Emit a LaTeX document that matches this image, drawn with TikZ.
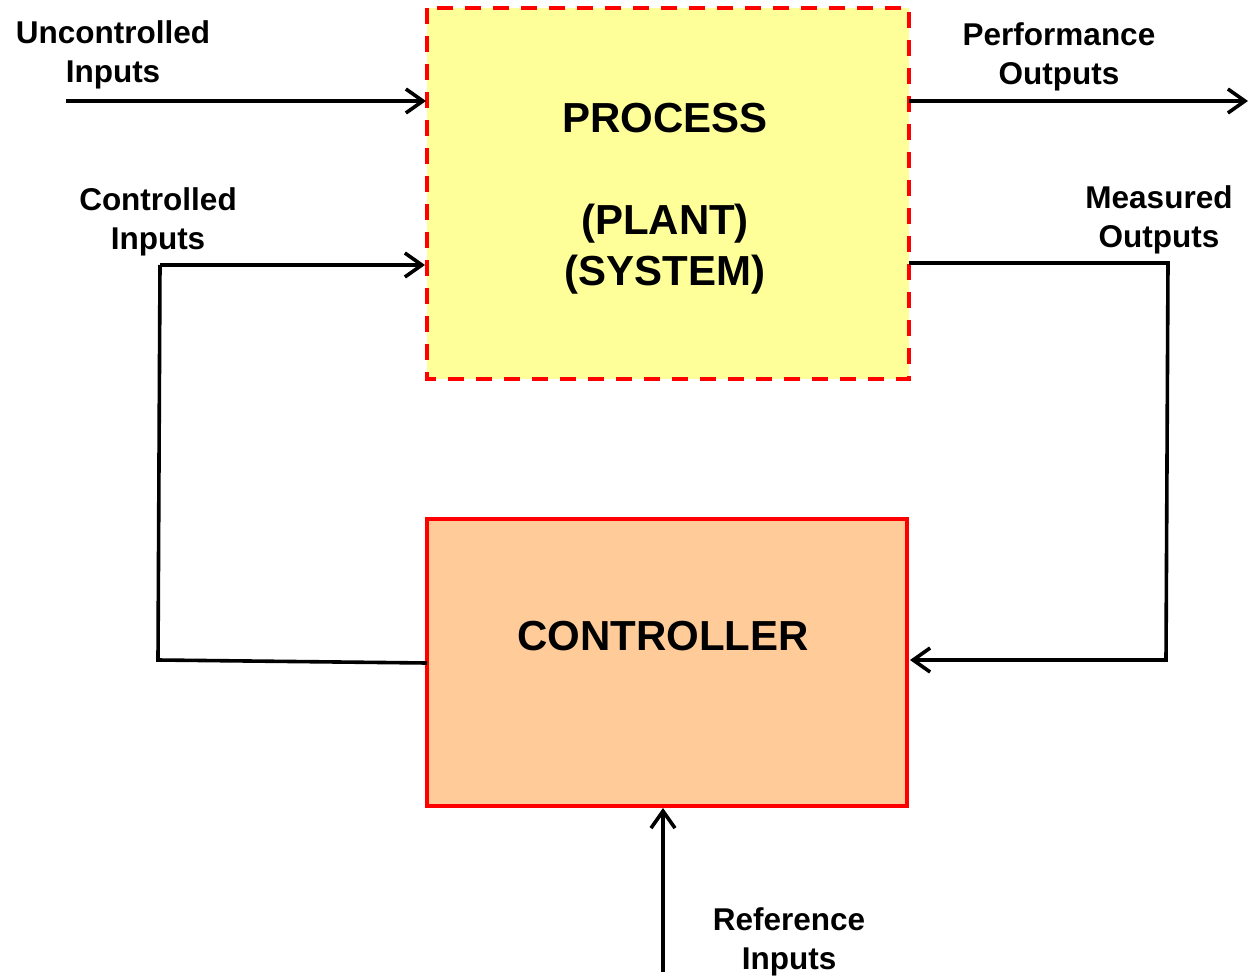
\documentclass[tikz,border=0pt]{standalone}
\usepackage{fontspec}
\setmainfont{Liberation Sans}
\usetikzlibrary{arrows.meta}
\definecolor{plantfill}{HTML}{FFFF99}
\definecolor{ctrlfill}{HTML}{FFCC99}
\tikzset{
  conn/.style={line width=3.6pt, draw=black},
  arr/.style={conn, -{Straight Barb[length=17pt,width=24pt,line width=3.6pt]}},
  lbl/.style={align=center, font=\fontsize{31.5}{38.5}\selectfont\bfseries, inner sep=0pt},
  bigtxt/.style={align=center, font=\fontsize{42}{51}\selectfont\bfseries, inner sep=0pt},
}
\begin{document}
\begin{tikzpicture}[x=1pt,y=-1pt]
\useasboundingbox (0,0) rectangle (1251,977);

% process block
\draw[fill=plantfill, draw=red, line width=3.4pt, dash pattern=on 16pt off 12pt]
  (427,8) rectangle (909,379);
\node[bigtxt] (proc) at (665,199) {PROCESS\\[51pt](PLANT)\\(SYSTEM)};

% controller block
\draw[fill=ctrlfill, draw=red, line width=3.4pt] (427,519) rectangle (907,806);
\node[bigtxt] (ctrl) at (663,636) {CONTROLLER};

% labels
\node[lbl] (uin) at (113,55) {Uncontrolled\\Inputs};
\node[lbl] (cin) at (158,222) {Controlled\\Inputs};
\node[lbl] (pout) at (1059,57) {Performance\\Outputs};
\node[lbl] (mout) at (1159,220) {Measured\\Outputs};
\node[lbl] (rin) at (789,942) {Reference\\Inputs};

% connector end points
\coordinate (uA) at (66,101);
\coordinate (uB) at (426,101);
\coordinate (cA) at (160,265);
\coordinate (cB) at (425,265);
\coordinate (cC) at (158,660);
\coordinate (cD) at (427,663);
\coordinate (pA) at (909,101);
\coordinate (pB) at (1248,101);
\coordinate (mA) at (909,263);
\coordinate (mB) at (1168,263);
\coordinate (mC) at (1166,660);
\coordinate (mD) at (910,660);
\coordinate (rA) at (663,972);
\coordinate (rB) at (663,808);

% connectors
\draw[arr] (uA) -- (uB);
\draw[arr] (cA) -- (cB);
\draw[conn] (cD) -- (cC) -- (cA);
\draw[arr] (pA) -- (pB);
\draw[arr] (mA) -- (mB) -- (mC) -- (mD);
\draw[arr] (rA) -- (rB);
\end{tikzpicture}
\end{document}
